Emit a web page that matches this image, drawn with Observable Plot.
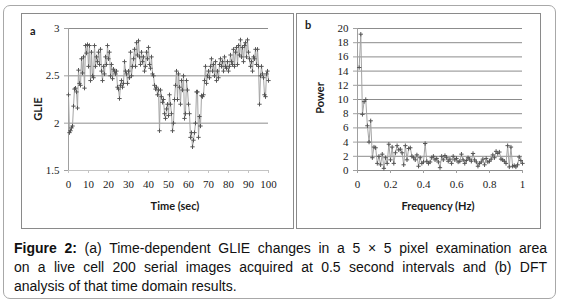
<!DOCTYPE html>
<html>
<head>
<meta charset="utf-8">
<script src="https://cdn.jsdelivr.net/npm/d3@7"></script>
<script src="https://cdn.jsdelivr.net/npm/@observablehq/plot@0.6"></script>
<style>
  html, body { margin: 0; padding: 0; background: #fff; }
  #root { position: relative; width: 564px; height: 304px; overflow: hidden; font-family: "Liberation Sans", Arial, sans-serif; }
  .frame { position: absolute; left: 3px; top: 5px; width: 553px; height: 294px; border: 1px solid #a8a8a8; border-radius: 7px; box-sizing: border-box; }
  .panel { position: absolute; border: 1px solid #8a8a8a; box-sizing: border-box; }
  .chart { position: absolute; }
  .lbl { position: absolute; font-family: Lato, "Open Sans", sans-serif; font-weight: bold; font-size: 11px; color: #1a1a1a; white-space: nowrap; line-height: 1; }
  .cap { position: absolute; left: 14px; width: 533px; font-size: 14px; line-height: 19px; color: #111; text-align: justify; text-align-last: justify; white-space: nowrap; }
  .cap.last { text-align-last: left; }
</style>
</head>
<body>
<div id="root">
  <div class="frame"></div>
  <div class="panel" style="left:21px;top:13px;width:273px;height:216px;"></div>
  <div class="panel" style="left:296px;top:13px;width:245px;height:216px;"></div>
  <div id="chartA" class="chart" style="left:21px;top:13px;"></div>
  <div id="chartB" class="chart" style="left:296px;top:13px;"></div>
  <div class="lbl" style="left:30px;top:25px;">a</div>
  <div class="lbl" style="left:305px;top:19px;">b</div>
  <div class="lbl" id="xtA" style="left:175px;top:200px;transform:translateX(-50%);">Time (sec)</div>
  <div class="lbl" id="ytA" style="left:37px;top:109px;transform:translate(-50%,-50%) rotate(-90deg);">GLIE</div>
  <div class="lbl" id="xtB" style="left:438px;top:200px;transform:translateX(-50%);">Frequency (Hz)</div>
  <div class="lbl" id="ytB" style="left:319px;top:98px;transform:translate(-50%,-50%) rotate(-90deg);">Power</div>
  <div class="cap" style="top:239px;"><b>Figure 2:</b> (a) Time-dependent GLIE changes in a 5 × 5 pixel examination area</div>
  <div class="cap" style="top:258px;">on a live cell 200 serial images acquired at 0.5 second intervals and (b) DFT</div>
  <div class="cap last" style="top:277px;">analysis of that time domain results.</div>
</div>
<script>
// ---- Panel (a): GLIE vs time, sampled every 0.5 s ----
const sampleInterval = 0.5;
const glie = [
  2.30, 1.90, 1.92, 1.95, 1.97, 2.18, 2.36, 2.37, 2.33, 2.16,
  2.56, 2.42, 2.40, 2.68, 2.53, 2.70, 2.37, 2.82, 2.74, 2.83,
  2.60, 2.82, 2.45, 2.75, 2.50, 2.48, 2.82, 2.60, 2.70, 2.65,
  2.75, 2.62, 2.78, 2.55, 2.45, 2.60, 2.52, 2.70, 2.62, 2.82,
  2.68, 2.75, 2.50, 2.62, 2.47, 2.57, 2.55, 2.52, 2.55, 2.38,
  2.36, 2.26, 2.40, 2.45, 2.38, 2.42, 2.65, 2.55, 2.52, 2.42,
  2.55, 2.48, 2.75, 2.50, 2.60, 2.68, 2.78, 2.60, 2.85, 2.72,
  2.87, 2.70, 2.62, 2.75, 2.65, 2.70, 2.55, 2.60, 2.75, 2.68,
  2.80, 2.62, 2.58, 2.70, 2.52, 2.50, 2.40, 2.36, 2.38, 2.30,
  2.35, 1.92, 2.35, 2.28, 2.22, 2.25, 2.10, 2.05, 2.15, 2.20,
  2.08, 2.30, 2.20, 2.10, 1.92, 2.00, 2.25, 2.40, 2.55, 2.25,
  2.52, 2.38, 2.20, 2.45, 2.35, 2.50, 2.05, 2.10, 2.45, 2.35,
  2.20, 2.10, 1.85, 1.90, 1.75, 1.82, 1.90, 2.00, 2.33, 2.33,
  1.85, 2.07, 1.97, 2.29, 2.28, 2.30, 2.45, 2.60, 2.42, 2.50,
  2.55, 2.48, 2.60, 2.68, 2.55, 2.62, 2.50, 2.65, 2.45, 2.55,
  2.48, 2.62, 2.68, 2.60, 2.65, 2.55, 2.70, 2.60, 2.58, 2.65,
  2.55, 2.60, 2.72, 2.65, 2.62, 2.78, 2.60, 2.75, 2.80, 2.62,
  2.82, 2.72, 2.88, 2.70, 2.80, 2.65, 2.82, 2.85, 2.70, 2.88,
  2.75, 2.68, 2.60, 2.65, 2.55, 2.70, 2.68, 2.78, 2.62, 2.78,
  2.60, 2.20, 2.50, 2.60, 2.52, 2.48, 2.30, 2.28, 2.52, 2.55,
  2.45
];
const xTicksA = [0, 10, 20, 30, 40, 50, 60, 70, 80, 90, 100];
const yTicksA = [1.5, 2, 2.5, 3];

// ---- Panel (b): DFT power spectrum, 0.01 Hz resolution ----
const freqStep = 0.01;
const power = [
  14.5, 19.2, 7.9, 9.7, 10.0, 6.3, 4.0, 7.0, 1.8, 3.3,
  3.2, 1.0, 2.0, 0.8, 2.3, 0.3, 1.8, 1.0, 3.7, 1.5,
  3.3, 1.0, 2.5, 3.5, 2.9, 3.0, 2.5, 0.8, 3.5, 1.5,
  3.1, 3.2, 2.0, 1.8, 1.5, 2.2, 0.6, 1.8, 1.0, 1.2,
  3.8, 1.3, 1.0, 1.2, 1.8, 2.0, 1.5, 1.7, 1.2, 0.4,
  2.0, 1.5, 2.1, 1.8, 1.3, 1.6, 1.0, 2.0, 1.5, 1.7,
  1.2, 1.3, 2.3, 1.5, 1.0, 1.4, 1.8, 1.6, 1.3, 2.4,
  1.5, 1.2, 0.6, 1.0, 1.2, 1.6, 0.8, 1.7, 1.2, 1.3,
  1.6, 2.2, 1.8, 2.7, 2.4, 2.6, 1.6, 1.5, 1.3, 1.0,
  3.5, 0.5, 3.3, 0.6, 0.7, 0.5, 0.8, 1.9, 1.4, 1.0
];
const xTicksB = [0, 0.2, 0.4, 0.6, 0.8, 1];
const xTickLabelsB = ["0", "0.2", "0.4", "0.6", "0.8", "1"];
const yTicksB = [0, 2, 4, 6, 8, 10, 12, 14, 16, 18, 20];

const dataA = glie.map((v, i) => ({t: i * sampleInterval, v}));
const dataB = power.map((p, i) => ({f: +((i + 1) * freqStep).toFixed(2), p}));

const tickStyle = {fontFamily: "'Liberation Serif', serif", fontSize: "11px", color: "#1a1a1a", background: "transparent", overflow: "visible"};

const chartA = Plot.plot({
  width: 273, height: 216,
  marginLeft: 47, marginRight: 26, marginTop: 15, marginBottom: 59,
  x: {domain: [0, 100]},
  y: {domain: [1.5, 3]},
  style: tickStyle,
  marks: [
    Plot.ruleY(yTicksA.filter(d => d > 1.5), {stroke: "#8c8c8c", strokeWidth: 1}),
    Plot.ruleY([1.5], {stroke: "#c4c4c4"}),
    Plot.ruleX([0], {stroke: "#a0a0a0"}),
    Plot.axisY({ticks: yTicksA, tickSize: 4, tickPadding: 5, stroke: "#a0a0a0", label: null, tickFormat: d => String(d)}),
    Plot.axisX({ticks: xTicksA, tickSize: 3, tickPadding: 7, stroke: "#c4c4c4", label: null, tickFormat: d => String(d)}),
    Plot.line(dataA, {x: "t", y: "v", stroke: "#a4a4a4", strokeWidth: 1}),
    Plot.dot(dataA, {x: "t", y: "v", symbol: "plus", r: 1.5, stroke: "#555", strokeWidth: 1})
  ]
});
document.getElementById("chartA").appendChild(chartA);

const chartB = Plot.plot({
  width: 245, height: 216,
  marginLeft: 61, marginRight: 19, marginTop: 15, marginBottom: 59,
  x: {domain: [0, 1]},
  y: {domain: [0, 20]},
  style: tickStyle,
  marks: [
    Plot.ruleY(yTicksB.filter(d => d > 0), {stroke: "#8c8c8c", strokeWidth: 1}),
    Plot.ruleY([0], {stroke: "#8c8c8c"}),
    Plot.ruleX([0], {stroke: "#a0a0a0"}),
    Plot.axisY({ticks: yTicksB, tickSize: 4, tickPadding: 5, stroke: "#a0a0a0", label: null, tickFormat: d => String(d)}),
    Plot.axisX({ticks: xTicksB, tickSize: 3, tickPadding: 7, stroke: "#a0a0a0", label: null, tickFormat: (d, i) => xTickLabelsB[i]}),
    Plot.line(dataB, {x: "f", y: "p", stroke: "#a4a4a4", strokeWidth: 1}),
    Plot.dot(dataB, {x: "f", y: "p", symbol: "plus", r: 1.5, stroke: "#555", strokeWidth: 1})
  ]
});
document.getElementById("chartB").appendChild(chartB);
</script>
</body>
</html>
